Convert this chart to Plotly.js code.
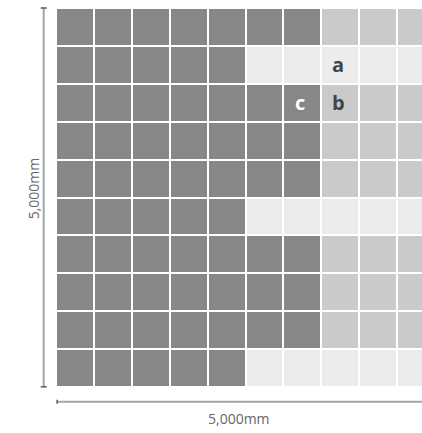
<!DOCTYPE html>
<html>
<head>
<meta charset="utf-8">
<script src="https://cdn.plot.ly/plotly-3.0.1.min.js"></script>
<style>html,body{margin:0;padding:0;background:#fff;}#chart{width:422px;height:433px;}</style>
</head>
<body>
<div id="chart"></div>
<script>
// Grid of 10 x 10 cells (5,000mm x 5,000mm)
const cols = [0,1,2,3,4,5,6,7,8,9];
const rows = [0,1,2,3,4,5,6,7,8,9];
// number of dark cells from the left in each row (top to bottom)
const darkCount = [7,5,7,7,7,5,7,7,7,5];
// tone of the remaining cells: 1 = light grey, 2 = pale grey
const restTone = [1,2,1,1,1,2,1,1,1,2];
// cell labels
const labelText = ['a','b','c'];
const labelCol = [7,7,6];
const labelRow = [1,2,2];
const labelColor = ['#3d454d','#3d454d','#ffffff'];
const dimText = ['5,000mm','5,000mm'];

const z = rows.map(r => cols.map(c => c < darkCount[r] ? 0 : restTone[r]));

const trace = {
  type: 'heatmap',
  x: cols, y: rows, z: z,
  zmin: 0, zmax: 2,
  colorscale: [[0,'#878787'],[0.333,'#878787'],[0.333,'#c9cac9'],[0.667,'#c9cac9'],[0.667,'#ececec'],[1,'#ececec']],
  showscale: false,
  xgap: 2, ygap: 2,
  hoverinfo: 'skip'
};

const annotations = labelText.map((t,i) => ({
  x: labelCol[i] - 0.05, y: labelRow[i], xref: 'x', yref: 'y',
  xanchor: 'center', yanchor: 'middle',
  text: '<b>' + t + '</b>', showarrow: false,
  font: {family: 'Open Sans', size: 20, color: labelColor[i]}
}));
annotations.push({
  x: -0.062, y: 0.525, xref: 'paper', yref: 'paper', text: dimText[0], textangle: -90,
  xanchor: 'center', yanchor: 'middle',
  showarrow: false, font: {family: 'Open Sans', size: 14, color: '#666666'}
});
annotations.push({
  x: 0.501, y: -0.082, xref: 'paper', yref: 'paper', text: dimText[1],
  xanchor: 'center', yanchor: 'middle',
  showarrow: false, font: {family: 'Open Sans', size: 14, color: '#666666'}
});

const lineCol = '#a0a6aa', capCol = '#555a5e';
const shapes = [
  {type:'line', xref:'paper', yref:'paper', x0:-0.0336, x1:-0.0336, y0:0.0005, y1:1, line:{color:lineCol, width:2}},
  {type:'line', xref:'paper', yref:'paper', x0:-0.0418, x1:-0.0254, y0:1, y1:1, line:{color:capCol, width:1.5}},
  {type:'line', xref:'paper', yref:'paper', x0:-0.0418, x1:-0.0254, y0:0.0005, y1:0.0005, line:{color:capCol, width:1.5}},
  {type:'line', xref:'paper', yref:'paper', x0:0.003, x1:1.05, y0:-0.0388, y1:-0.0388, line:{color:lineCol, width:2}},
  {type:'line', xref:'paper', yref:'paper', x0:0.003, x1:0.003, y0:-0.0335, y1:-0.0441, line:{color:capCol, width:1.5}}
];

const layout = {
  width: 422, height: 433,
  margin: {l: 56, r: 0, t: 8, b: 46},
  paper_bgcolor: '#ffffff', plot_bgcolor: '#ffffff',
  xaxis: {range: [-0.5, 9.157], showgrid: false, zeroline: false, showticklabels: false, ticks: '', fixedrange: true},
  yaxis: {range: [9.5, -0.5], showgrid: false, zeroline: false, showticklabels: false, ticks: '', fixedrange: true},
  showlegend: false,
  annotations: annotations,
  shapes: shapes,
  font: {family: 'Open Sans'}
};

Plotly.newPlot('chart', [trace], layout, {displayModeBar: false, staticPlot: true});
</script>
</body>
</html>
